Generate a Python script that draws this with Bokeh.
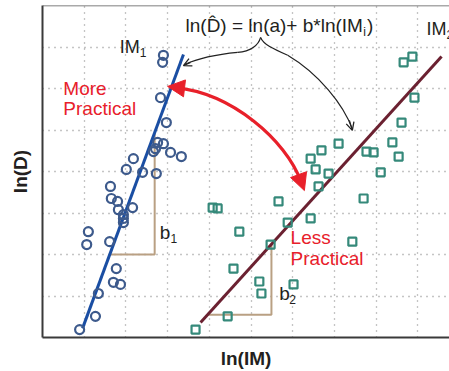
import math
from bokeh.plotting import figure
from bokeh.models import (Label, Arrow, NormalHead, OpenHead, FixedTicker, Span, Range1d)
from bokeh.embed import file_html
from bokeh.resources import INLINE

# ---- data (in grid units) ----
blue_x = [2.90, 2.88, 2.83, 2.97, 2.76, 2.90, 2.66, 2.71, 3.07, 3.33, 2.18, 2.01, 2.40, 2.73,
          1.63, 1.65, 1.80, 1.82, 2.16, 1.94, 1.94, 1.94, 1.10, 1.06, 1.61, 1.77, 1.70, 1.87,
          1.34, 1.27, 0.89]
blue_y = [6.80, 6.63, 5.78, 5.18, 4.70, 4.67, 4.48, 4.55, 4.46, 4.36, 4.31, 4.05, 3.98, 3.95,
          3.64, 3.35, 3.28, 3.08, 3.13, 2.87, 2.77, 2.96, 2.55, 2.24, 2.31, 1.66, 1.33, 1.28,
          1.06, 0.51, 0.19]

green_x = [8.66, 8.87, 8.92, 8.61, 8.39, 8.54, 7.77, 7.94, 8.11, 7.10, 6.69, 6.43, 6.55, 6.86,
           6.62, 5.66, 7.70, 5.88, 6.43, 4.72, 7.43, 5.47, 4.58, 5.20, 5.25, 6.02, 4.44, 4.08,
           4.20, 3.67]
green_y = [6.63, 6.77, 5.78, 5.18, 4.70, 4.36, 4.48, 4.46, 3.98, 4.67, 4.51, 4.31, 4.05, 3.95,
           3.64, 3.28, 3.35, 2.77, 2.87, 2.55, 2.31, 2.24, 1.66, 1.35, 1.06, 1.28, 0.51, 3.13,
           3.11, 0.19]

# regression lines
line1_x = [0.96, 3.38]
line1_y = [0.22, 6.82]
line2_x = [3.79, 9.57]
line2_y = [0.36, 6.77]

# slope triangles
tri1_x = [1.63, 2.69, 2.69]
tri1_y = [2.00, 2.00, 4.92]
tri2_x = [3.96, 5.49, 5.49]
tri2_y = [0.55, 0.55, 2.25]

grid_x = [1, 2, 3, 4, 5, 6, 7, 8, 9]
grid_y = [1, 2, 3, 4, 5, 6, 7]

FONT = "Liberation Sans"
RED = "#e8202a"
DARK = "#231f20"
BLUE_LINE = "#1a4ea3"
BLUE_PT = "#3d5a8c"
GREEN = "#35897a"
MAROON = "#6b2131"
TAN = "#b9a083"

p = figure(width=449, height=371, output_backend="svg", toolbar_location=None,
           x_range=Range1d(0, 9.76), y_range=Range1d(0, 8.0),
           min_border_left=42, min_border_right=0, min_border_top=5, min_border_bottom=34)
p.outline_line_color = None
p.background_fill_color = "white"

for ax in (p.xaxis[0], p.yaxis[0]):
    ax.ticker = FixedTicker(ticks=[])
    ax.major_tick_line_color = None
    ax.minor_tick_line_color = None
    ax.major_tick_out = 0
    ax.major_tick_in = 0
    ax.major_label_standoff = 0
    ax.major_label_text_font_size = "0px"
    ax.axis_line_width = 2
    ax.axis_line_color = "#3a3a3a"
    ax.axis_label_text_font = FONT
    ax.axis_label_text_font_size = "19px"
    ax.axis_label_text_font_style = "bold"
    ax.axis_label_text_color = DARK

p.xaxis.axis_label = "ln(IM)"
p.xaxis.axis_label_standoff = 10
p.yaxis.axis_label = "ln(D)"
p.yaxis.axis_label_standoff = 12

p.xgrid.ticker = FixedTicker(ticks=grid_x)
p.ygrid.ticker = FixedTicker(ticks=grid_y)
for g in (p.xgrid[0], p.ygrid[0]):
    g.grid_line_color = "#8a8a8a"
    g.grid_line_dash = "1 5"
    g.grid_line_width = 1.3

p.add_layout(Span(location=8.0, dimension="width", line_color="#555555", line_width=1.5))

# slope triangles
p.line(tri1_x, tri1_y, line_color=TAN, line_width=2)
p.line(tri2_x, tri2_y, line_color=TAN, line_width=2)

# regression lines
p.line(line1_x, line1_y, line_color=BLUE_LINE, line_width=3)
p.line(line2_x, line2_y, line_color=MAROON, line_width=3)

# points
p.scatter(blue_x, blue_y, marker="circle", size=9, fill_color=None,
          line_color=BLUE_PT, line_width=2.2)
p.scatter(green_x, green_y, marker="square", size=8, fill_color=None,
          line_color=GREEN, line_width=2.2)

# black brace arrows
p.bezier(x0=[5.23, 4.68, 5.23, 5.88], y0=[7.23, 6.87, 7.23, 6.80],
         x1=[4.68, 3.41, 5.88, 7.43], y1=[6.87, 6.58, 6.80, 5.02],
         cx0=[5.18, 4.15, 5.30, 6.62], cy0=[7.04, 6.82, 7.06, 6.36],
         cx1=[4.99, 3.72, 5.52, 7.22], cy1=[6.89, 6.72, 6.96, 5.61],
         line_color="#222222", line_width=1.2)
p.add_layout(Arrow(end=OpenHead(size=8, line_color="#222222", line_width=1.3),
                   x_start=3.55, y_start=6.63, x_end=3.38, y_end=6.55,
                   line_color="#222222", line_width=1.2))
p.add_layout(Arrow(end=OpenHead(size=8, line_color="#222222", line_width=1.3),
                   x_start=7.36, y_start=5.23, x_end=7.43, y_end=4.99,
                   line_color="#222222", line_width=1.2))

# red double arrow
p.bezier(x0=[3.19], y0=[6.02], x1=[6.19], y1=[3.78],
         cx0=[4.56], cy0=[5.88], cx1=[5.83], cy1=[4.75],
         line_color=RED, line_width=3.2)
p.add_layout(Arrow(end=NormalHead(size=17, fill_color=RED, line_color=RED),
                   x_start=3.43, y_start=6.00, x_end=3.00, y_end=6.05, line_color=None))
p.add_layout(Arrow(end=NormalHead(size=17, fill_color=RED, line_color=RED),
                   x_start=6.12, y_start=3.98, x_end=6.28, y_end=3.54, line_color=None))

def lab(x, y, text, size="19px", color=DARK, align="left", bold=False, angle=0.0):
    p.add_layout(Label(x=x, y=y, text=text, text_font=FONT, text_font_size=size,
                       text_color=color, text_align=align, text_baseline="middle",
                       text_font_style="bold" if bold else "normal", angle=angle))

# equation
lab(3.43, 7.52, "ln(D\u0302) = ln(a)+ b*ln(IM")
lab(7.69, 7.37, "i", size="12px")
lab(7.78, 7.52, ")")

# IM labels
lab(1.85, 6.99, "IM", size="18px")
lab(2.33, 6.86, "1", size="12px")
lab(9.21, 7.43, "IM", size="18px")
lab(9.69, 7.30, "2", size="12px")

# practical labels
lab(0.50, 6.00, "More", color=RED)
lab(0.50, 5.52, "Practical", color=RED)
lab(5.95, 2.41, "Less", color=RED)
lab(5.95, 1.90, "Practical", color=RED)

# slope labels
lab(2.81, 2.53, "b", size="19px")
lab(3.07, 2.38, "1", size="12px")
lab(5.68, 1.07, "b", size="19px")
lab(5.92, 0.92, "2", size="12px")

open("out.html", "w").write(file_html(p, INLINE))
